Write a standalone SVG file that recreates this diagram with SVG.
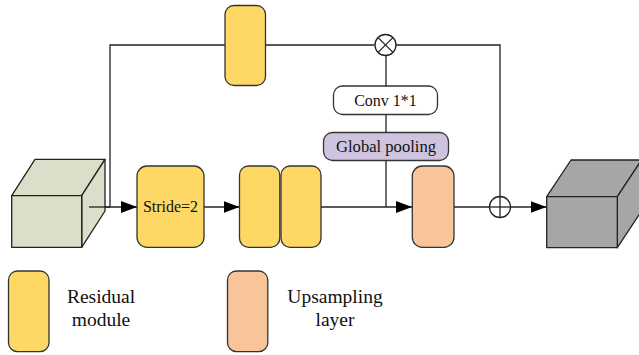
<svg xmlns="http://www.w3.org/2000/svg" width="639" height="355" viewBox="0 0 639 355">
  <defs>
    <marker id="arrow" viewBox="0 0 16 12" refX="16" refY="6" markerWidth="16" markerHeight="12" markerUnits="userSpaceOnUse" orient="auto">
      <path d="M0,0 L16,6 L0,12 Z" fill="#000"/>
    </marker>
    <style>
      .line { fill: none; stroke: #222; stroke-width: 1.3; }
      .box { stroke: #333; stroke-width: 1.3; }
      .res { fill: #fed864; }
      .up { fill: #f8c49a; }
      .pool { fill: #cfc4df; }
      .conv { fill: #ffffff; }
      .edge { stroke: #222; stroke-width: 1.3; stroke-linejoin: round; }
      .label { fill: #111; text-anchor: middle; }
    </style>
  </defs>

  <rect width="639" height="355" fill="#ffffff"/>

  <!-- connectors -->
  <g id="connectors">
    <!-- top branch loop -->
    <polyline class="line" points="110,207 110,45 374.5,45"/>
    <polyline class="line" points="395.5,45 500,45 500,196"/>
    <!-- attention branch: pooling -> conv -> multiply -->
    <line class="line" x1="386" y1="207" x2="386" y2="56"/>
    <!-- main path -->
    <line class="line" x1="89" y1="207" x2="137" y2="207" marker-end="url(#arrow)"/>
    <line class="line" x1="204" y1="207" x2="239.5" y2="207" marker-end="url(#arrow)"/>
    <line class="line" x1="321" y1="207" x2="412" y2="207" marker-end="url(#arrow)"/>
    <line class="line" x1="454" y1="207" x2="546.5" y2="207" marker-end="url(#arrow)"/>
  </g>

  <!-- input feature cube -->
  <g id="input-cube">
    <polygon class="edge" fill="#d9dfc8" points="11.7,195.7 35,159.3 105,159.3 81.7,195.7"/>
    <polygon class="edge" fill="#d9dfc8" points="81.7,195.7 105,159.3 105,211 81.7,247.3"/>
    <rect class="edge" fill="#d9dfc8" x="11.7" y="195.7" width="70" height="51.6"/>
    <line class="line" x1="89" y1="207" x2="110" y2="207"/>
  </g>

  <!-- output feature cube -->
  <g id="output-cube">
    <polygon class="edge" fill="#a6a6a6" points="546.7,196.7 571,160 641.6,160 617.3,196.7"/>
    <polygon class="edge" fill="#a6a6a6" points="617.3,196.7 641.6,160 641.6,211 617.3,247.7"/>
    <rect class="edge" fill="#a6a6a6" x="546.7" y="196.7" width="70.6" height="51"/>
  </g>

  <!-- residual block on the top branch -->
  <g id="top-residual">
    <rect class="box res" x="225" y="5.5" width="40.5" height="80" rx="9"/>
  </g>

  <!-- multiply node -->
  <g id="multiply">
    <circle cx="385.5" cy="45" r="10.5" fill="#fff" stroke="#222" stroke-width="1.3"/>
    <line class="line" x1="378.1" y1="37.6" x2="392.9" y2="52.4"/>
    <line class="line" x1="392.9" y1="37.6" x2="378.1" y2="52.4"/>
  </g>

  <g font-family="'Liberation Serif', 'Times New Roman', 'DejaVu Serif', serif">
    <!-- conv 1x1 -->
    <g id="conv">
      <rect class="box conv" x="333.5" y="86" width="104" height="28.5" rx="9"/>
      <text class="label" x="385.5" y="105.5" font-size="16">Conv 1*1</text>
    </g>

    <!-- global pooling -->
    <g id="global-pooling">
      <rect class="box pool" x="323.5" y="132.5" width="125" height="28" rx="9"/>
      <text class="label" x="386" y="152" font-size="16.6">Global pooling</text>
    </g>

    <!-- stride-2 residual block -->
    <g id="stride-block">
      <rect class="box res" x="137" y="166" width="67" height="81.3" rx="10"/>
      <text class="label" x="170.5" y="212" font-size="16">Stride=2</text>
    </g>

    <!-- stacked residual blocks -->
    <g id="residual-a">
      <rect class="box res" x="239.5" y="166" width="40.3" height="81.3" rx="9"/>
    </g>
    <g id="residual-b">
      <rect class="box res" x="281" y="166" width="40" height="81.3" rx="9"/>
    </g>

    <!-- upsampling layer -->
    <g id="upsampling">
      <rect class="box up" x="412.3" y="166" width="41.7" height="81.3" rx="10"/>
    </g>

    <!-- legend -->
    <g id="legend-residual">
      <rect class="box res" x="8.5" y="271" width="40.5" height="80.7" rx="9"/>
      <text class="label" x="101" y="302.5" font-size="19.5">Residual</text>
      <text class="label" x="101" y="326" font-size="19.5">module</text>
    </g>
    <g id="legend-upsampling">
      <rect class="box up" x="227.5" y="271" width="40.3" height="80.7" rx="9"/>
      <text class="label" x="335" y="302.5" font-size="19.5">Upsampling</text>
      <text class="label" x="335" y="326" font-size="19.5">layer</text>
    </g>
  </g>

  <!-- add node -->
  <g id="add">
    <circle cx="500" cy="207" r="10.5" fill="#fff" stroke="#222" stroke-width="1.3"/>
    <line class="line" x1="489.5" y1="207" x2="510.5" y2="207"/>
    <line class="line" x1="500" y1="196.5" x2="500" y2="217.5"/>
  </g>
</svg>
